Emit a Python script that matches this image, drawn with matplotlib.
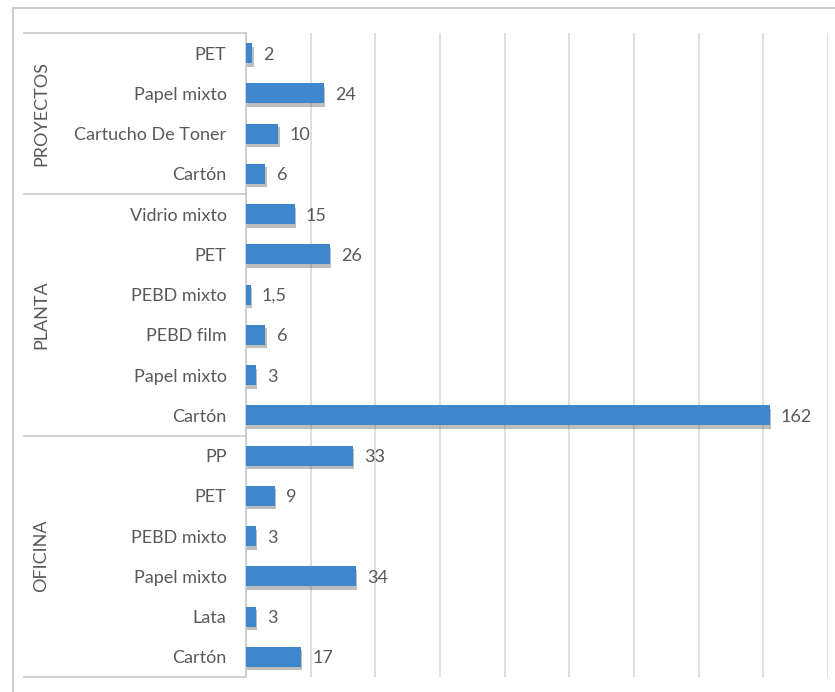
import matplotlib.pyplot as plt
import matplotlib.patheffects as pe
from matplotlib.patches import Rectangle

# Datos (de abajo hacia arriba)
groups = ["OFICINA", "PLANTA", "PROYECTOS"]
oficina_items = ["Cartón", "Lata", "Papel mixto", "PEBD mixto", "PET", "PP"]
oficina_vals = [17, 3, 34, 3, 9, 33]
planta_items = ["Cartón", "Papel mixto", "PEBD film", "PEBD mixto", "PET", "Vidrio mixto"]
planta_vals = [162, 3, 6, 1.5, 26, 15]
proyectos_items = ["Cartón", "Cartucho De Toner", "Papel mixto", "PET"]
proyectos_vals = [6, 10, 24, 2]

items = oficina_items + planta_items + proyectos_items
vals = oficina_vals + planta_vals + proyectos_vals
sizes = [len(oficina_items), len(planta_items), len(proyectos_items)]

plt.rcParams['font.family'] = ['Lato', 'DejaVu Sans']
txt = '#595959'
line_c = '#c9c9c9'
fs = 13

fig = plt.figure(figsize=(8.35, 6.92), dpi=100)
ax = fig.add_axes([246/835, 1 - 677/692, 582/835, 644/692])

# marco exterior del grafico
fig.patches.append(Rectangle((13/835, -0.05), 1.2, 1 - 8/692 + 0.05,
                             transform=fig.transFigure, fill=False,
                             edgecolor='#cfcfcf', lw=1.5, zorder=0))

y = list(range(len(items)))
bars = ax.barh(y, vals, height=0.5, color='#3f87cd', zorder=3)
for b in bars:
    b.set_path_effects([pe.SimplePatchShadow(offset=(1, -2.5), shadow_rgbFace='#444444', alpha=0.35),
                        pe.Normal()])

for yi, v in zip(y, vals):
    lab = str(v).replace('.', ',') if v % 1 else str(int(v))
    ax.annotate(lab, (v, yi), xytext=(8, -1), textcoords='offset points',
                va='center', ha='left', fontsize=fs, color=txt)

ax.set_xlim(0, 180)
ax.set_ylim(-0.5, len(items) - 0.5)
ax.set_xticks(range(0, 181, 20))
ax.xaxis.grid(True, color='#d9d9d9', lw=1.2, zorder=0)
ax.tick_params(axis='x', length=0, labelbottom=False)
ax.set_yticks(y)
ax.set_yticklabels(items, fontsize=fs, color=txt)
ax.tick_params(axis='y', length=0, pad=14)
for s in ['top', 'right', 'bottom']:
    ax.spines[s].set_visible(False)
ax.spines['left'].set_color(line_c)
ax.spines['left'].set_linewidth(1.2)

# separadores y etiquetas de grupo
tr = ax.get_yaxis_transform()
start = -0.5
ax.plot([-0.381, 0], [start, start], transform=tr, color=line_c, lw=1.2, clip_on=False)
for g, n in zip(groups, sizes):
    end = start + n
    ax.plot([-0.381, 0], [end, end], transform=tr, color=line_c, lw=1.2, clip_on=False)
    ax.text(-0.352, (start + end) / 2, g, transform=tr, rotation=90,
            ha='center', va='center', fontsize=fs, color=txt)
    start = end

fig.savefig('out.png', dpi=100)
